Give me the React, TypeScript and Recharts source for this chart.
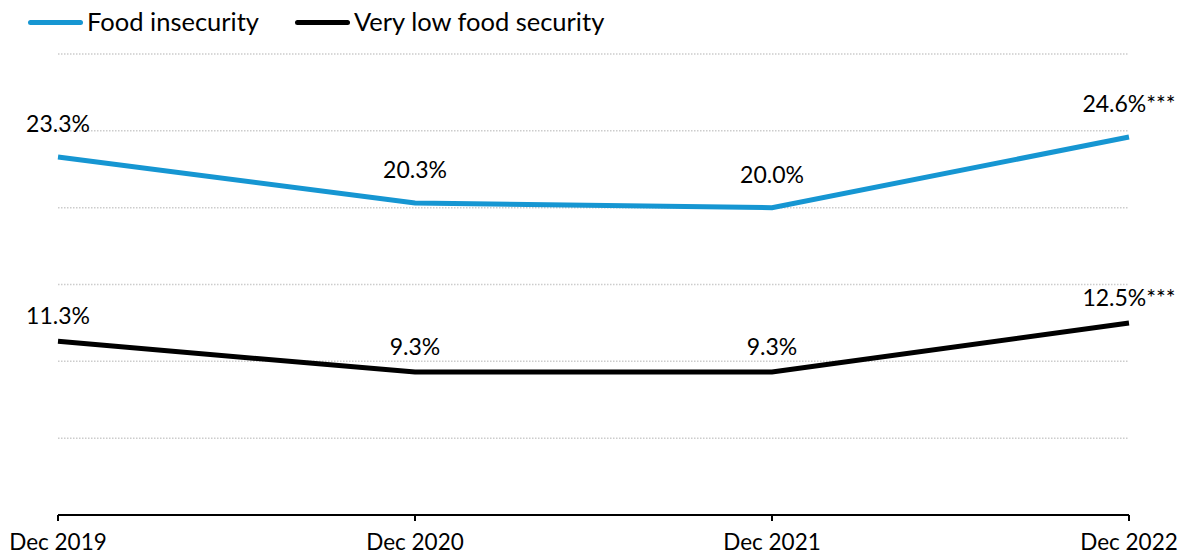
import { LineChart, Line, XAxis, YAxis, CartesianGrid, LabelList } from 'recharts';

const periods = ['Dec 2019', 'Dec 2020', 'Dec 2021', 'Dec 2022'];
const foodInsecurity = [23.3, 20.3, 20.0, 24.6];
const veryLowFoodSecurity = [11.3, 9.3, 9.3, 12.5];
const significance = ['', '', '', '***'];
const yTicks = [0, 5, 10, 15, 20, 25, 30];

const BLUE = '#1696d2';
const BLACK = '#000000';
const FONT = 'Lato, "Open Sans", sans-serif';

const data = periods.map((period, i) => ({
  period,
  food: foodInsecurity[i],
  vls: veryLowFoodSecurity[i],
}));

// label sits a bit higher above the blue line than above the black one
const makeLabel = (lift: number) => (props: any) => {
  const { x, y, value, index } = props;
  const note = significance[index];
  return (
    <text x={x} y={y - lift} textAnchor="middle" fontSize={23} fontFamily={FONT} fill="#000">
      {value.toFixed(1)}%
      {note ? <tspan>{note}</tspan> : null}
    </text>
  );
};

const legendItems = [
  { label: 'Food insecurity', color: BLUE },
  { label: 'Very low food security', color: BLACK },
];

export default function App() {
  return (
    <div style={{ position: 'absolute', left: 0, top: 0, width: 1200, height: 557, background: '#fff', fontFamily: FONT }}>
      <div style={{ position: 'absolute', left: 28, top: 4, display: 'flex', alignItems: 'center', gap: 36 }}>
        {legendItems.map((item) => (
          <div key={item.label} style={{ display: 'flex', alignItems: 'center' }}>
            <span style={{ display: 'inline-block', width: 55, height: 5, borderRadius: 2.5, background: item.color, marginRight: 4, marginTop: 2 }} />
            <span style={{ fontSize: 25.5, color: '#000', lineHeight: '34px' }}>{item.label}</span>
          </div>
        ))}
      </div>
      <LineChart width={1200} height={557} data={data} margin={{ top: 54, right: 71, bottom: 0, left: 58 }}>
        <CartesianGrid vertical={false} stroke="#cccccc" strokeDasharray="1.5 1.5" strokeWidth={1.5} />
        <XAxis
          dataKey="period"
          axisLine={{ stroke: '#000', strokeWidth: 2 }}
          tickLine={{ stroke: '#000', strokeWidth: 2 }}
          tickSize={6}
          tickMargin={13}
          height={42}
          tick={{ fontSize: 22.5, fill: '#000', fontFamily: FONT }}
          interval={0}
        />
        <YAxis hide domain={[0, 30]} ticks={yTicks} />
        <Line dataKey="food" stroke={BLUE} strokeWidth={5} dot={false} isAnimationActive={false}>
          <LabelList dataKey="food" content={makeLabel(25)} />
        </Line>
        <Line dataKey="vls" stroke={BLACK} strokeWidth={5} dot={false} isAnimationActive={false}>
          <LabelList dataKey="vls" content={makeLabel(17)} />
        </Line>
      </LineChart>
    </div>
  );
}
